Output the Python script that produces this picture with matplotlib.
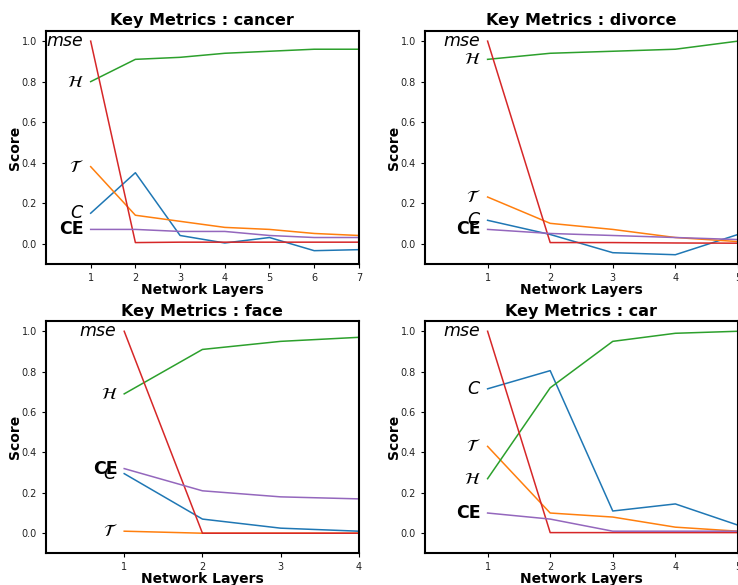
import matplotlib
matplotlib.use("Agg")
import matplotlib.pyplot as plt

# per-dataset metric curves
datasets = ["cancer", "divorce", "face", "car"]

cancer_C = [0.15, 0.35, 0.04, 0.003, 0.03, -0.035, -0.03]
cancer_T = [0.38, 0.14, 0.11, 0.08, 0.07, 0.05, 0.04]
cancer_H = [0.80, 0.91, 0.92, 0.94, 0.95, 0.96, 0.96]
cancer_mse = [1.0, 0.005, 0.007, 0.007, 0.007, 0.007, 0.007]
cancer_CE = [0.07, 0.07, 0.06, 0.06, 0.04, 0.03, 0.03]

divorce_C = [0.115, 0.045, -0.045, -0.055, 0.045]
divorce_T = [0.23, 0.10, 0.07, 0.03, 0.01]
divorce_H = [0.91, 0.94, 0.95, 0.96, 1.0]
divorce_mse = [1.0, 0.005, 0.005, 0.003, 0.002]
divorce_CE = [0.07, 0.05, 0.04, 0.03, 0.02]

face_C = [0.295, 0.07, 0.025, 0.01]
face_T = [0.01, 0.0, 0.0, 0.0]
face_H = [0.69, 0.91, 0.95, 0.97]
face_mse = [1.0, 0.0, 0.0, 0.0]
face_CE = [0.32, 0.21, 0.18, 0.17]

car_C = [0.715, 0.805, 0.11, 0.145, 0.04]
car_T = [0.43, 0.10, 0.08, 0.03, 0.01]
car_H = [0.27, 0.72, 0.95, 0.99, 1.0]
car_mse = [1.0, 0.003, 0.003, 0.003, 0.003]
car_CE = [0.10, 0.07, 0.01, 0.01, 0.01]

metric_labels = ["$C$", r"$\mathcal{T}$", r"$\mathcal{H}$", "$mse$", "CE"]

series = {
    "cancer": [cancer_C, cancer_T, cancer_H, cancer_mse, cancer_CE],
    "divorce": [divorce_C, divorce_T, divorce_H, divorce_mse, divorce_CE],
    "face": [face_C, face_T, face_H, face_mse, face_CE],
    "car": [car_C, car_T, car_H, car_mse, car_CE],
}

fig = plt.figure(figsize=(7.38, 5.85), dpi=100)

# axes boxes in figure fractions (left, bottom, width, height)
boxes = {
    "cancer": (0.0623, 0.549, 0.424, 0.398),
    "divorce": (0.5759, 0.549, 0.424, 0.398),
    "face": (0.0623, 0.054, 0.424, 0.397),
    "car": (0.5759, 0.054, 0.424, 0.397),
}

for name in datasets:
    ax = fig.add_axes(boxes[name])
    curves = series[name]
    n = len(curves[0])
    layers = list(range(1, n + 1))

    for vals, lab in zip(curves, metric_labels):
        ax.plot(layers, vals, linewidth=1.1)
        weight = "bold" if lab == "CE" else "normal"
        ax.annotate(lab, (1, vals[0]), xytext=(-5, 0), textcoords="offset points",
                    ha="right", va="center", fontsize=12.5, fontweight=weight)

    ax.set_xlim(0, n)
    ax.set_ylim(-0.1, 1.05)
    ax.set_xticks(layers)
    ax.set_yticks([0.0, 0.2, 0.4, 0.6, 0.8, 1.0])
    ax.tick_params(labelsize=7, labelcolor="#222222", length=3)
    ax.set_title(f"Key Metrics : {name}", fontsize=11.5, fontweight="bold", pad=4)
    ax.set_xlabel("Network Layers", fontsize=10, fontweight="bold", labelpad=0)
    ax.set_ylabel("Score", fontsize=10, fontweight="bold", labelpad=0)
    for sp in ax.spines.values():
        sp.set_linewidth(1.5)

fig.savefig("out.png", dpi=100)
